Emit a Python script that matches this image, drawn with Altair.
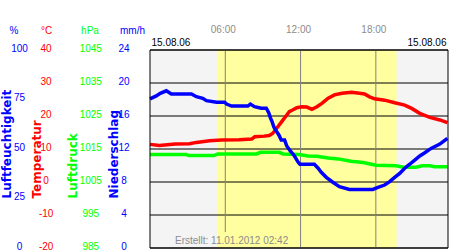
import altair as alt
import pandas as pd

# ---------------- data ----------------
hum_h = [0.0, 0.5, 0.82, 1.3, 1.7, 3.3, 3.7, 4.2, 4.5, 5.3, 5.95, 6.1, 6.5, 7.8, 8.0,
         8.33, 8.87, 9.27, 9.47, 9.6, 9.74, 9.87, 10.06, 10.27, 10.46, 10.73, 10.9, 11.18,
         11.5, 11.8, 11.95, 13.1, 13.4, 13.65, 14.05, 14.57, 15.1, 15.9, 17.76, 18.16,
         18.7, 19.1, 19.5, 19.9, 20.3, 20.7, 21.1, 21.5, 21.9, 22.4, 23.1, 23.7]
hum_v = [75.3, 76.8, 78.1, 79.4, 77.8, 77.8, 76.4, 75.6, 74.4, 73.6, 73.6, 72.7, 71.7, 71.7, 72.7,
         71.4, 70.6, 70.6, 68.2, 65.7, 63.6, 61.1, 59.1, 57.1, 54.5, 54.5, 51.5, 49.0,
         46.6, 43.4, 42.3, 42.3, 40.3, 38.2, 35.7, 33.2, 31.0, 29.6, 29.6, 30.6,
         31.8, 33.5, 35.7, 37.7, 40.3, 42.3, 44.4, 46.5, 48.1, 50.3, 52.5, 55.4]

temp_h = [0.0, 0.75, 2.0, 3.15, 3.7, 4.75, 5.7, 7.1, 8.1, 8.35, 9.1, 9.5, 9.77, 10.1, 10.5,
          10.9, 11.1, 11.36, 11.7, 12.1, 12.5, 12.9, 13.3, 13.7, 14.2, 14.7, 15.3, 16.05,
          16.7, 17.1, 17.5, 17.9, 18.7, 19.5, 20.3, 20.85, 21.5, 22.3, 23.1, 23.7]
temp_v = [11.4, 11.1, 11.5, 11.6, 12.0, 12.5, 12.7, 12.8, 13.0, 13.7, 13.9, 14.1, 14.7, 16.3, 18.3,
          20.3, 21.3, 21.8, 22.5, 22.8, 22.7, 22.0, 22.8, 23.8, 25.4, 26.4, 26.9, 27.2,
          26.9, 26.7, 25.8, 25.2, 24.8, 24.0, 23.3, 22.3, 20.8, 19.6, 18.8, 18.0]

pres_h = [0.0, 2.9, 3.1, 5.1, 5.4, 8.5, 8.8, 10.3, 10.6, 11.9, 12.6, 13.3, 14.2, 15.0,
          16.0, 17.0, 18.0, 19.6, 20.2, 21.2, 21.7, 22.3, 22.7, 23.7]
pres_v = [1013.3, 1013.3, 1013.0, 1013.0, 1013.5, 1013.5, 1014.0, 1014.0, 1013.5, 1013.3,
          1012.9, 1012.8, 1012.3, 1012.0, 1011.3, 1010.9, 1010.1, 1009.9, 1009.5, 1009.5,
          1009.9, 1009.9, 1009.6, 1009.6]

prec_h = [0, 3, 6, 9, 12, 15, 18, 21]
prec_v = [0, 0, 0, 0, 0, 0, 0, 0]

day_span = [0.0, 23.75]
light_span = [5.33, 19.65]
time_ticks = [6, 12, 18]
hum_ticks = [0, 25, 50, 75, 100]
temp_ticks = [-20, -10, 0, 10, 20, 30, 40]
pres_ticks = [985, 995, 1005, 1015, 1025, 1035, 1045]
prec_ticks = [0, 4, 8, 12, 16, 20, 24]
units = ["%", "°C", "hPa", "mm/h"]
titles = ["Luftfeuchtigkeit", "Temperatur", "Luftdruck", "Niederschlag"]
dates = ["15.08.06", "15.08.06"]
created = ["Erstellt: 11.01.2012 02:42"]

# ---------------- styling ----------------
W, H = 298, 198
BLUE, RED, GREEN = "#0000ff", "#ff0000", "#00ff00"
GRAYTXT = "#8c8c8c"
FONT = "Liberation Sans"

x_axis = alt.Axis(orient="top", values=time_ticks,
                  labelExpr="(datum.value < 10 ? '0' : '') + datum.value + ':00'",
                  ticks=False, tickSize=0, domain=False, grid=False,
                  labelPadding=20.7, labelBaseline="middle", labelOffset=-2.5,
                  labelColor=GRAYTXT, labelFont=FONT, labelFontSize=10,
                  labelFlush=False, title=None)
x_scale = alt.Scale(domain=day_span, nice=False, zero=False, padding=0)


def X(field):
    return alt.X(f"{field}:Q", scale=x_scale, axis=x_axis)


def yaxis(values, offset, color, title, title_x):
    return alt.Axis(orient="left", values=values, offset=offset, ticks=False, tickSize=0,
                    domain=False, grid=False, labelPadding=0, labelAlign="center",
                    labelBaseline="middle", labelOffset=-2, labelColor=color,
                    labelExpr="'' + datum.value",
                    labelFont=FONT, labelFontSize=10, labelOverlap=False,
                    title=title, titleColor=color, titleFont="DejaVu Sans",
                    titleFontWeight="bold", titleFontSize=12, titleAngle=270,
                    titleAlign="left", titleBaseline="middle", titleX=title_x, titleY=148)


def yscale(ticks):
    return alt.Scale(domain=[ticks[0], ticks[-1]], nice=False, zero=False)


# ---------------- layers ----------------
bg = alt.Chart(pd.DataFrame({"s": [day_span[0]], "e": [day_span[1]]})).mark_rect(
    color="#f4f4f4").encode(x=X("s"), x2="e", y=alt.value(0), y2=alt.value(H))
light = alt.Chart(pd.DataFrame({"s": [light_span[0]], "e": [light_span[1]]})).mark_rect(
    color="#ffff9f").encode(x=X("s"), x2="e", y=alt.value(0), y2=alt.value(H))

grid = alt.Chart(pd.DataFrame({"t": temp_ticks})).mark_rule(color="black", strokeWidth=1).encode(
    y=alt.Y("t:Q", scale=yscale(temp_ticks), axis=None))

tdf = pd.DataFrame({"h": time_ticks})
vrule_a = alt.Chart(tdf).transform_filter("datum.h == 6").mark_rule(
    color="#808080", strokeWidth=1).encode(x=X("h"), y=alt.value(0), y2=alt.value(182))
vrule_b = alt.Chart(tdf).transform_filter("datum.h != 6").mark_rule(
    color="#808080", strokeWidth=1).encode(x=X("h"), y=alt.value(0), y2=alt.value(H))

prec = alt.Chart(pd.DataFrame({"h": prec_h, "v": prec_v})).mark_tick(
    color=BLUE, orient="horizontal", opacity=0).encode(
    x=X("h"),
    y=alt.Y("v:Q", scale=yscale(prec_ticks),
            axis=yaxis(prec_ticks, 26.5, BLUE, titles[3], -9.7)))

pres = alt.Chart(pd.DataFrame({"h": pres_h, "v": pres_v})).mark_line(
    color=GREEN, strokeWidth=3.5).encode(
    x=X("h"),
    y=alt.Y("v:Q", scale=yscale(pres_ticks),
            axis=yaxis(pres_ticks, 59.7, GREEN, titles[2], -17.5)))

temp = alt.Chart(pd.DataFrame({"h": temp_h, "v": temp_v})).mark_line(
    color=RED, strokeWidth=3.5).encode(
    x=X("h"),
    y=alt.Y("v:Q", scale=yscale(temp_ticks),
            axis=yaxis(temp_ticks, 104.4, RED, titles[1], -9.5)))

hum = alt.Chart(pd.DataFrame({"h": hum_h, "v": hum_v})).mark_line(
    color=BLUE, strokeWidth=3.5).encode(
    x=X("h"),
    y=alt.Y("v:Q", scale=yscale(hum_ticks),
            axis=yaxis(hum_ticks, 131, BLUE, titles[0], -12.5)))

frame = alt.Chart(pd.DataFrame({"a": [0]})).mark_rect(
    fillOpacity=0, stroke="black", strokeWidth=1).encode(
    x=alt.value(0), x2=alt.value(W), y=alt.value(0), y2=alt.value(H))


def label(txt, xpos, ypos, color, align="center"):
    return alt.Chart(pd.DataFrame({"t": [txt]})).mark_text(
        font=FONT, fontSize=10, color=color, align=align, baseline="middle").encode(
        text="t:N", x=alt.value(xpos), y=alt.value(ypos))


unit_layers = [
    label(units[0], -136, -19.3, BLUE),
    label(units[1], -103.3, -19.3, RED),
    label(units[2], -60, -19.3, GREEN),
    label(units[3], -17.5, -19.3, BLUE),
]
date_layers = [
    label(dates[0], 1.5, -6.7, "black", "left"),
    label(dates[1], 296.5, -6.7, "black", "right"),
]
created_layer = label(created[0], 25, 191, GRAYTXT, "left")

chart = alt.layer(
    bg, light, grid, vrule_a, vrule_b, prec, pres, temp, hum, frame,
    *unit_layers, *date_layers, created_layer
).resolve_scale(y="independent").properties(
    width=W, height=H, autosize="none",
    padding={"left": 150, "top": 50, "right": 2, "bottom": 2},
).configure_view(stroke=None)

chart.save("out.html", embed_options={"renderer": "svg", "actions": False})
